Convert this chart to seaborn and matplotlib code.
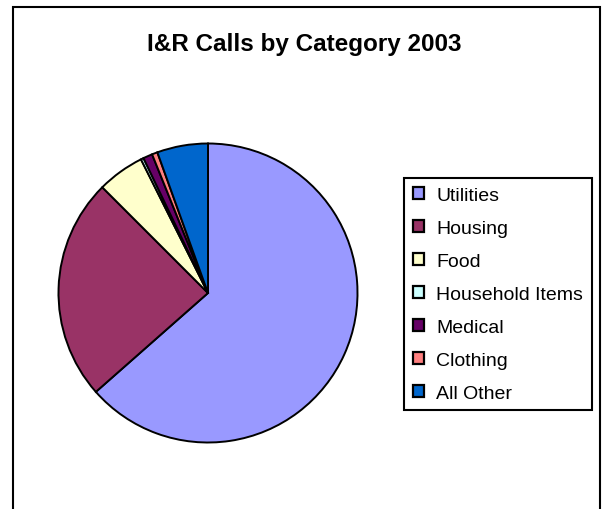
import matplotlib
matplotlib.use("Agg")
import matplotlib.pyplot as plt
from matplotlib.patches import Rectangle
import seaborn as sns

# Share of information & referral calls, by category (percent)
categories = ["Utilities", "Housing", "Food", "Household Items",
              "Medical", "Clothing", "All Other"]
shares = [63.5, 24.0, 5.1, 0.3, 1.0, 0.6, 5.5]
colors = ["#9999FF", "#993366", "#FFFFCC", "#CCFFFF",
          "#660066", "#FF8080", "#0066CC"]
title = "I&R Calls by Category 2003"

sns.set_theme(style="white")
plt.rcParams["font.family"] = ["Liberation Sans", "DejaVu Sans"]
plt.rcParams["text.color"] = "black"

W, H = 603, 510
fig = plt.figure(figsize=(W / 100, H / 100), dpi=100)
fig.patch.set_facecolor("white")

# outer chart border (open at the bottom edge)
fig.add_artist(Rectangle((13 / W, -0.05), (600 - 13) / W, 1.05 - 8 / H,
                         transform=fig.transFigure, fill=False,
                         edgecolor="black", linewidth=1.5))

# pie axes: centre (208, 294) px, radius 151 px
cx, cy, r = 208, 294, 151
ax = fig.add_axes([(cx - r) / W, (H - cy - r) / H, 2 * r / W, 2 * r / H])
palette = sns.color_palette(colors)
wedges, _ = ax.pie(shares, colors=palette, startangle=90, counterclock=False,
                   radius=1.0,
                   wedgeprops=dict(edgecolor="black", linewidth=1.4))
ax.set_xlim(-1.01, 1.01)
ax.set_ylim(-1.01, 1.01)
ax.set_aspect("equal")
ax.axis("off")

fig.text(0.5 + 3 / W, 1 - 45 / H, title, ha="center", va="center",
         fontsize=17.5, fontweight="bold", color="black")

leg = fig.legend(wedges, categories, loc="upper left",
                 bbox_to_anchor=(404 / W, 1 - 179 / H),
                 frameon=True, fancybox=False, shadow=False,
                 fontsize=14, handlelength=0.6, handleheight=0.6,
                 handletextpad=0.6, labelspacing=0.82,
                 borderpad=0.45, borderaxespad=0.0)
frame = leg.get_frame()
frame.set_edgecolor("black")
frame.set_linewidth(1.5)
frame.set_facecolor("white")
frame.set_alpha(1.0)
for h in leg.legend_handles:
    h.set_linewidth(1.6)
for t in leg.get_texts():
    t.set_color("black")

fig.savefig("out.png", dpi=100, facecolor="white")
